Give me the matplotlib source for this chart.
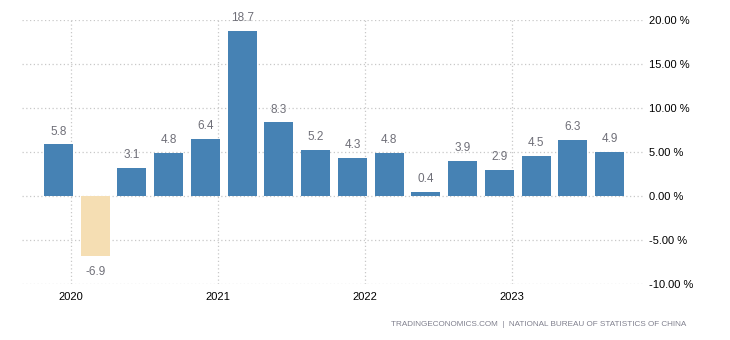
import matplotlib
matplotlib.use("Agg")
import matplotlib.pyplot as plt
import numpy as np

plt.rcParams['font.family'] = ['Liberation Sans', 'DejaVu Sans']

values = [5.8, -6.9, 3.1, 4.8, 6.4, 18.7, 8.3, 5.2, 4.3, 4.8, 0.4, 3.9, 2.9, 4.5, 6.3, 4.9]
year_labels = ['2020', '2021', '2022', '2023']
year_tick_pos = [0.34, 4.34, 8.34, 12.34]
y_ticks = [-10, -5, 0, 5, 10, 15, 20]

pos_color = '#4682B4'
neg_color = '#F5DEB3'

fig = plt.figure(figsize=(7.3, 3.4), dpi=100)
ax = fig.add_axes([22/730, 1-283.5/340, (645-22)/730, (283.5-19.5)/340])

x = np.arange(len(values))
colors = [pos_color if v >= 0 else neg_color for v in values]
bars = ax.bar(x, values, width=0.79, color=colors, zorder=3)

for xi, v in zip(x, values):
    if v >= 0:
        ax.annotate(f'{v:.1f}', (xi, v), xytext=(0, 5), textcoords='offset points',
                    ha='center', va='bottom', fontsize=8.5, color='#6f6f78', zorder=4)
    else:
        ax.annotate(f'{v:.1f}', (xi, v), xytext=(0, -7), textcoords='offset points',
                    ha='center', va='top', fontsize=8.5, color='#6f6f78', zorder=4)

ax.set_xlim(-0.99, 15.96)
ax.set_ylim(-10, 20)
ax.set_yticks(y_ticks)
ax.set_yticklabels([f'{t:.2f} %' for t in y_ticks])
ax.yaxis.tick_right()
ax.set_xticks(year_tick_pos)
ax.set_xticklabels(year_labels)
ax.tick_params(axis='both', length=0, labelsize=8, colors='black')
ax.tick_params(axis='y', pad=3)
ax.tick_params(axis='x', pad=6)

for s in ax.spines.values():
    s.set_visible(False)

ax.grid(True, axis='both', linestyle=(0, (1, 2)), color='#c8c8c8', linewidth=0.9, zorder=0)
ax.set_axisbelow(True)

fig.text(686/730, 1-325/340, 'TRADINGECONOMICS.COM  |  NATIONAL BUREAU OF STATISTICS OF CHINA',
         ha='right', va='center', fontsize=5.9, color='#80808e')

fig.savefig('out.png', dpi=100)
